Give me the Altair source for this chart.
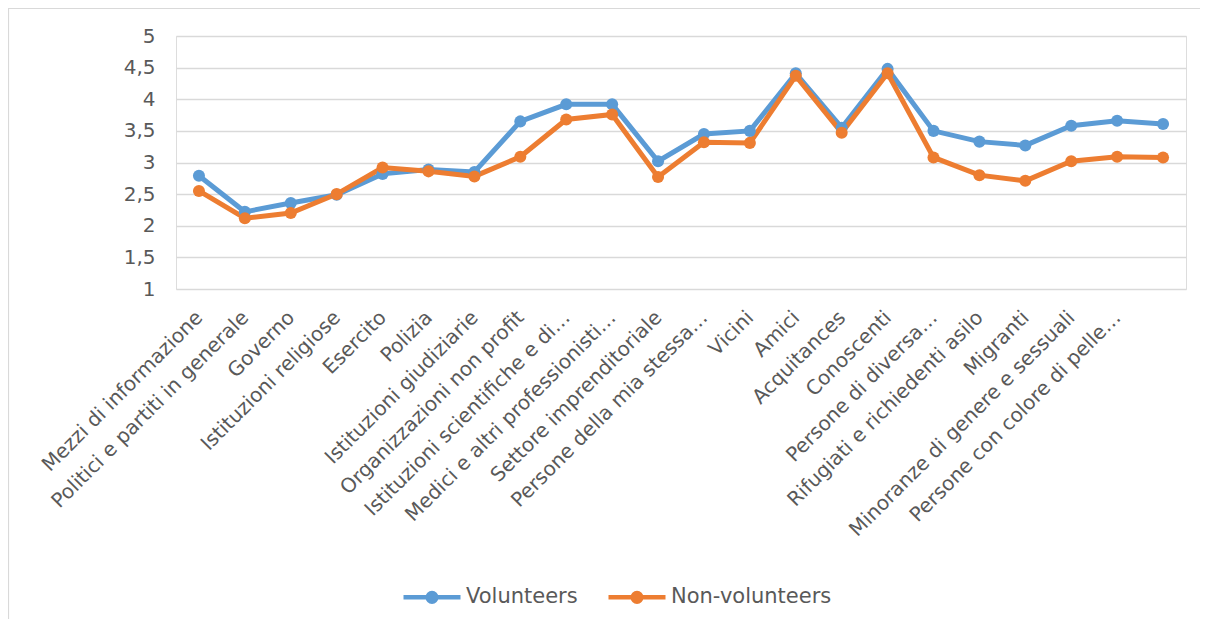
import json
import altair as alt
import pandas as pd

categories = [
    "Mezzi di informazione",
    "Politici e partiti in generale",
    "Governo",
    "Istituzioni religiose",
    "Esercito",
    "Polizia",
    "Istituzioni giudiziarie",
    "Organizzazioni non profit",
    "Istituzioni scientifiche e di…",
    "Medici e altri professionisti…",
    "Settore imprenditoriale",
    "Persone della mia stessa…",
    "Vicini",
    "Amici",
    "Acquitances",
    "Conoscenti",
    "Persone di diversa…",
    "Rifugiati e richiedenti asilo",
    "Migranti",
    "Minoranze di genere e sessuali",
    "Persone con colore di pelle…",
    "",
]

volunteers = [2.79, 2.22, 2.36, 2.49, 2.82, 2.89, 2.85, 3.65, 3.92, 3.92, 3.02,
              3.45, 3.50, 4.41, 3.55, 4.48, 3.50, 3.33, 3.27, 3.58, 3.66, 3.61]
non_volunteers = [2.55, 2.12, 2.20, 2.50, 2.92, 2.86, 2.78, 3.09, 3.68, 3.76, 2.77,
                  3.32, 3.31, 4.37, 3.47, 4.41, 3.08, 2.80, 2.71, 3.02, 3.09, 3.08]

series_names = ["Volunteers", "Non-volunteers"]
series_colors = ["#5B9BD5", "#ED7D31"]
y_ticks = [1, 1.5, 2, 2.5, 3, 3.5, 4, 4.5, 5]

rows = []
for i, cat in enumerate(categories):
    rows.append({"idx": i, "cat": cat, "serie": series_names[0], "value": volunteers[i]})
    rows.append({"idx": i, "cat": cat, "serie": series_names[1], "value": non_volunteers[i]})
df = pd.DataFrame(rows)

W, H = 1010, 253
FONT = "DejaVu Sans"
TXT = "#595959"

label_expr = json.dumps(categories, ensure_ascii=False) + "[datum.value]"

legend_symbol = (
    "M-1,0L1,0"
    "M0.15,0A0.15,0.15 0 1,1 -0.15,0A0.15,0.15 0 1,1 0.15,0"
    "M0.08,0A0.08,0.08 0 1,1 -0.08,0A0.08,0.08 0 1,1 0.08,0"
    "M0.02,0A0.02,0.02 0 1,1 -0.02,0A0.02,0.02 0 1,1 0.02,0"
)

x_enc = alt.X(
    "idx:O",
    title=None,
    scale=alt.Scale(padding=0.5),
    axis=alt.Axis(
        labelExpr=label_expr,
        labelAngle=-45,
        labelFontSize=20,
        labelFont=FONT,
        labelColor=TXT,
        labelLimit=500,
        labelPadding=18,
        labelOffset=-7,
        ticks=False,
        domain=False,
        grid=False,
    ),
)
y_enc = alt.Y(
    "value:Q",
    title=None,
    scale=alt.Scale(domain=[1, 5], nice=False, zero=False),
    axis=alt.Axis(
        values=y_ticks,
        labelExpr="replace(format(datum.value, '.1~f'), '.', ',')",
        labelFontSize=20,
        labelFont=FONT,
        labelColor=TXT,
        labelPadding=21,
        ticks=False,
        domain=False,
        gridColor="#d9d9d9",
        gridWidth=1.3,
    ),
)
color_enc = alt.Color(
    "serie:N",
    sort=series_names,
    scale=alt.Scale(domain=series_names, range=series_colors),
    legend=alt.Legend(
        title=None,
        orient="none",
        direction="horizontal",
        legendX=225,
        legendY=530,
        symbolType=legend_symbol,
        symbolSize=3249,
        symbolStrokeWidth=4.5,
        labelFontSize=21,
        labelFont=FONT,
        labelColor=TXT,
        labelOffset=3,
        labelLimit=400,
        columnPadding=21,
    ),
)

base = alt.Chart(df).encode(x=x_enc, y=y_enc, color=color_enc, order="idx:O")

lines = base.mark_line(strokeWidth=5)
points = base.mark_point(filled=True, size=145, opacity=1)

frame = alt.Chart(pd.DataFrame({"a": [0]})).mark_rect(
    fill="transparent", stroke="#d9d9d9", strokeWidth=1.2
).encode(
    x=alt.value(-167.5),
    x2=alt.value(W + 40),
    y=alt.value(-27.5),
    y2=alt.value(H + 400),
)

chart = (
    alt.layer(frame, lines, points)
    .properties(
        width=W,
        height=H,
        autosize=alt.AutoSizeParams(type="none"),
        padding={"left": 168, "top": 28, "right": 14, "bottom": 330},
    )
    .configure_view(stroke=None)
    .configure(background="white")
)

chart.save("out.html", embed_options={"renderer": "svg", "actions": False})
